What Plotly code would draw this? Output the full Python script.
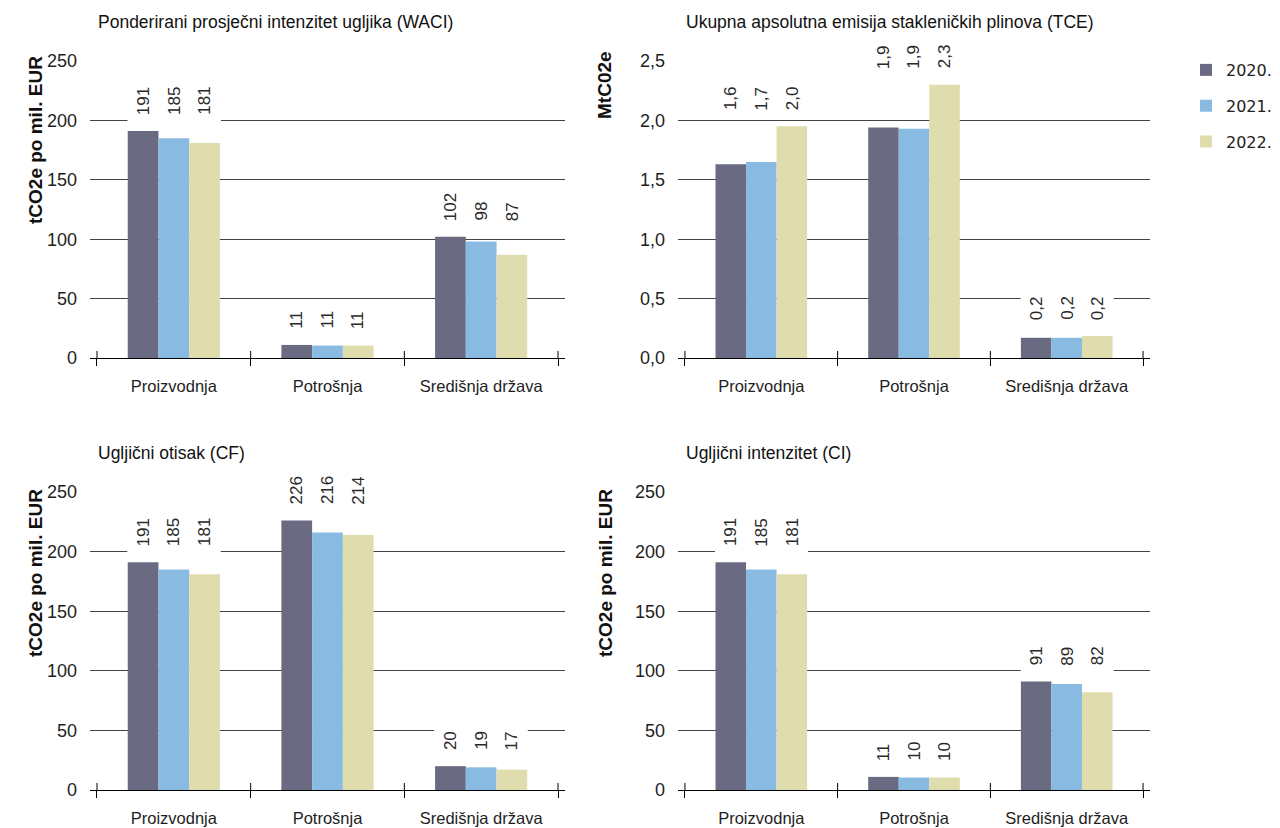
import plotly.graph_objects as go

# ---------------- data ----------------
categories = ["Proizvodnja", "Potrošnja", "Središnja država"]
years = ["2020.", "2021.", "2022."]
colors = ["#6a6b83", "#89bbe2", "#dfdcad"]

waci_2020 = [191, 11, 102]
waci_2021 = [185, 10.5, 98]
waci_2022 = [181, 10.5, 87]
waci_lbl_2020 = ["191", "11", "102"]
waci_lbl_2021 = ["185", "11", "98"]
waci_lbl_2022 = ["181", "11", "87"]

tce_2020 = [1.63, 1.94, 0.17]
tce_2021 = [1.65, 1.93, 0.17]
tce_2022 = [1.95, 2.30, 0.185]
tce_lbl_2020 = ["1,6", "1,9", "0,2"]
tce_lbl_2021 = ["1,7", "1,9", "0,2"]
tce_lbl_2022 = ["2,0", "2,3", "0,2"]

cf_2020 = [191, 226, 20]
cf_2021 = [185, 216, 19]
cf_2022 = [181, 214, 17]
cf_lbl_2020 = ["191", "226", "20"]
cf_lbl_2021 = ["185", "216", "19"]
cf_lbl_2022 = ["181", "214", "17"]

ci_2020 = [191, 11, 91]
ci_2021 = [185, 10.5, 89]
ci_2022 = [181, 10.5, 82]
ci_lbl_2020 = ["191", "11", "91"]
ci_lbl_2021 = ["185", "10", "89"]
ci_lbl_2022 = ["181", "10", "82"]

titles = ["Ponderirani prosječni intenzitet ugljika (WACI)",
          "Ukupna apsolutna emisija stakleničkih plinova (TCE)",
          "Ugljični otisak (CF)",
          "Ugljični intenzitet (CI)"]
y_titles = ["tCO2e po mil. EUR", "MtC02e", "tCO2e po mil. EUR", "tCO2e po mil. EUR"]
y_max = [250, 2.5, 250, 250]
y_dtick = [50, 0.5, 50, 50]

panels = [
    ([waci_2020, waci_2021, waci_2022], [waci_lbl_2020, waci_lbl_2021, waci_lbl_2022]),
    ([tce_2020, tce_2021, tce_2022], [tce_lbl_2020, tce_lbl_2021, tce_lbl_2022]),
    ([cf_2020, cf_2021, cf_2022], [cf_lbl_2020, cf_lbl_2021, cf_lbl_2022]),
    ([ci_2020, ci_2021, ci_2022], [ci_lbl_2020, ci_lbl_2021, ci_lbl_2022]),
]

# ---------------- layout geometry ----------------
OFF = 8                      # page body margin
W, H = 1280 - OFF, 828 - OFF  # figure size


def px(x):  # screen x -> paper fraction
    return (x - OFF) / W


def py(y):  # screen y -> paper fraction
    return 1 - (y - OFF) / H


FONT = "Liberation Sans, Arial, sans-serif"
TXT = "#1e1e1e"

x_cols = [(90, 565), (678, 1150)]          # screen px of plot areas
y_rows = [(61, 358), (492, 790)]           # top, bottom (screen px)
ytitle_x = [35, 605]
ytitle_cy = [(140, 85), (573, 573)]
EXT = 0.0455
BARGAP = 0.4
BW = (1 - BARGAP) / 3

fig = go.Figure()
annotations = []
shapes = []

for p, ((series, labels)) in enumerate(panels):
    n = p + 1
    xa = "x" if n == 1 else f"x{n}"
    ya = "y" if n == 1 else f"y{n}"
    col, row = p % 2, p // 2
    (xl, xr), (yt, yb) = x_cols[col], y_rows[row]
    plot_h_px = yb - yt

    for i, (vals, yr, c) in enumerate(zip(series, years, colors)):
        fig.add_trace(go.Bar(
            x=categories, y=vals, name=yr, marker=dict(color=c, line=dict(width=0)),
            xaxis=xa, yaxis=ya, showlegend=(p == 0), legendgroup=yr,
            hoverinfo="skip",
        ))

    # data labels (aligned per group)
    for j, cat in enumerate(categories):
        gmax = max(s[j] for s in series)
        for i in range(3):
            annotations.append(dict(
                x=j + (i - 1) * BW, y=gmax, xref=xa, yref=ya,
                text=labels[i][j], textangle=-90, showarrow=False,
                xanchor="center", yanchor="bottom", yshift=9,
                bgcolor="white", borderpad=6,
                font=dict(family=FONT, size=17, color="#2a2a2a"),
            ))

    # upper halves of the crossing ticks at category boundaries
    for b in range(len(categories) + 1):
        shapes.append(dict(
            type="line", xref=xa, yref=ya, x0=b - 0.5, x1=b - 0.5,
            y0=0, y1=y_max[p] * 7 / plot_h_px,
            line=dict(color="#000", width=1), layer="above",
        ))

    fig.update_layout(**{
        ("xaxis" if n == 1 else f"xaxis{n}"): dict(
            domain=[px(xl), px(xr)], anchor=ya, type="category",
            range=[-0.5 - EXT, len(categories) - 0.5 + EXT],
            showline=True, linecolor="#000", linewidth=1,
            ticks="outside", tickson="boundaries", ticklen=7, tickcolor="#000",
            showgrid=False, ticklabelstandoff=13, automargin=False,
            tickfont=dict(family=FONT, size=16.5, color=TXT),
        ),
        ("yaxis" if n == 1 else f"yaxis{n}"): dict(
            domain=[py(yb), py(yt)], anchor=xa, range=[0, y_max[p]],
            dtick=y_dtick[p], tickformat=(".1f" if y_max[p] < 10 else "d"),
            showgrid=True, gridcolor="#444", gridwidth=1, zeroline=False,
            showline=False, ticks="", ticklabelstandoff=12, automargin=False,
            tickfont=dict(family=FONT, size=18, color=TXT),
        ),
    })

    # panel title
    annotations.append(dict(
        x=px(xl + 6), y=py(yt - 39), xref="paper", yref="paper",
        text=titles[p], showarrow=False, xanchor="left", yanchor="middle",
        font=dict(family=FONT, size=17.5, color="#111"),
    ))
    # y-axis title
    annotations.append(dict(
        x=px(ytitle_x[col]), y=py(ytitle_cy[row][col]), xref="paper", yref="paper",
        text=f"<b>{y_titles[p]}</b>", textangle=-90, showarrow=False,
        xanchor="center", yanchor="middle",
        font=dict(family=FONT, size=19, color="#111"),
    ))

fig.update_layout(
    width=W, height=H,
    margin=dict(l=0, r=0, t=0, b=0, autoexpand=False),
    plot_bgcolor="white", paper_bgcolor="white",
    barmode="group", bargap=BARGAP, bargroupgap=0,
    separators=",.",
    annotations=annotations, shapes=shapes,
    legend=dict(
        x=px(1186), y=py(53), xanchor="left", yanchor="top",
        font=dict(family="DejaVu Sans, sans-serif", size=16, color="#222"),
        tracegroupgap=12, traceorder="grouped", itemwidth=30,
        bgcolor="rgba(0,0,0,0)",
    ),
    showlegend=True,
)

fig.write_html("out.html")
